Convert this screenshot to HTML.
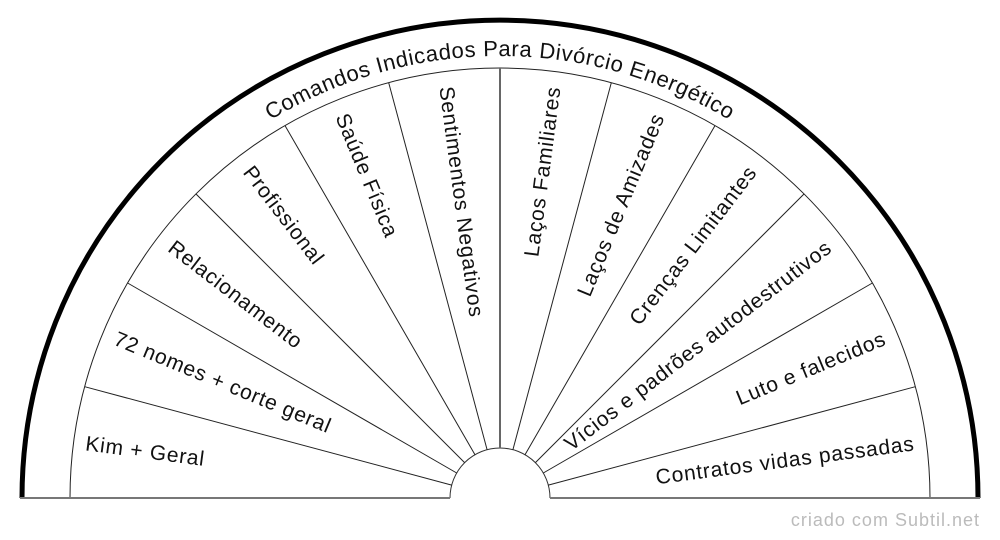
<!DOCTYPE html>
<html><head><meta charset="utf-8"><style>
html,body{margin:0;padding:0;background:#fff;}
svg{display:block;}
text{font-family:"Liberation Sans",sans-serif;fill:#111;}
</style></head><body>
<svg width="1000" height="540" viewBox="0 0 1000 540" xmlns="http://www.w3.org/2000/svg">
<defs>
<path id="tp" d="M 58 498 A 442 442 0 0 1 942 498"/>
</defs>
<path d="M 22 498 A 478 478 0 0 1 978 498" fill="none" stroke="#000" stroke-width="5"/>
<path d="M 70 498 A 430 430 0 0 1 930 498" fill="none" stroke="#222" stroke-width="1"/>
<path d="M 450 498 A 50 50 0 0 1 550 498" fill="none" stroke="#333" stroke-width="1"/>
<line x1="20" y1="498" x2="450" y2="498" stroke="#777" stroke-width="2"/>
<line x1="550" y1="498" x2="980" y2="498" stroke="#777" stroke-width="2"/>
<g stroke="#222" stroke-width="1">
<line x1="451.7" y1="485.1" x2="84.7" y2="386.7"/>
<line x1="456.7" y1="473" x2="127.6" y2="283"/>
<line x1="464.6" y1="462.6" x2="195.9" y2="193.9"/>
<line x1="475" y1="454.7" x2="285" y2="125.6"/>
<line x1="487.1" y1="449.7" x2="388.7" y2="82.7"/>
<line x1="500" y1="448" x2="500" y2="68" stroke="#666" stroke-width="2"/>
<line x1="512.9" y1="449.7" x2="611.3" y2="82.7"/>
<line x1="525" y1="454.7" x2="715" y2="125.6"/>
<line x1="535.4" y1="462.6" x2="804.1" y2="193.9"/>
<line x1="543.3" y1="473" x2="872.4" y2="283"/>
<line x1="548.3" y1="485.1" x2="915.3" y2="386.7"/>
</g>
<text font-size="22" letter-spacing="0.6"><textPath href="#tp" startOffset="50%" text-anchor="middle">Comandos Indicados Para Divórcio Energético</textPath></text>
<g font-size="21" letter-spacing="0.8" dominant-baseline="central">
<text x="85.6" y="443.8" transform="rotate(7.5 85.6 443.8)">Kim + Geral</text>
<text x="115" y="338.2" transform="rotate(22.5 115 338.2)">72 nomes + corte geral</text>
<text x="170.7" y="245.4" transform="rotate(37.5 170.7 245.4)">Relacionamento</text>
<text x="247.4" y="168.7" transform="rotate(52.5 247.4 168.7)">Profissional</text>
<text x="341.2" y="114.6" transform="rotate(67.5 341.2 114.6)">Saúde Física</text>
<text x="445.8" y="86.6" transform="rotate(82.5 445.8 86.6)">Sentimentos Negativos</text>
<text x="554.2" y="86.6" transform="rotate(-82.5 554.2 86.6)" text-anchor="end">Laços Familiares</text>
<text x="658.8" y="114.6" transform="rotate(-67.5 658.8 114.6)" text-anchor="end">Laços de Amizades</text>
<text x="752.6" y="168.7" transform="rotate(-52.5 752.6 168.7)" text-anchor="end">Crenças Limitantes</text>
<text x="829.3" y="245.4" transform="rotate(-37.5 829.3 245.4)" text-anchor="end">Vícios e padrões autodestrutivos</text>
<text x="885" y="338.2" transform="rotate(-22.5 885 338.2)" text-anchor="end">Luto e falecidos</text>
<text x="914.4" y="443.8" transform="rotate(-7.5 914.4 443.8)" text-anchor="end">Contratos vidas passadas</text>
</g>
<text x="980" y="526" font-size="18" letter-spacing="1" text-anchor="end" style="fill:#bbb">criado com Subtil.net</text>
</svg>
</body></html>
